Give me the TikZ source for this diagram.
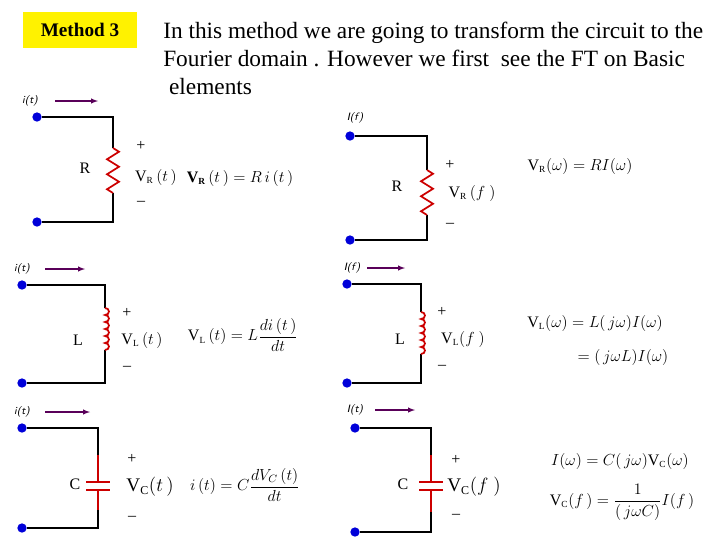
\documentclass[tikz,border=0pt]{standalone}
\usepackage{fontspec}
\setmainfont{Liberation Serif}
\usepackage{amsmath}
\begin{document}
\begin{tikzpicture}[x=0.75pt,y=-0.75pt,
 dot/.style={circle,fill=blue!85!black,inner sep=0,minimum size=7pt},
 w/.style={draw=black,line width=0.8pt},
 comp/.style={draw=red!80!black,line width=1.3pt},
 cur/.style={draw=violet!70!black,line width=0.8pt,-latex},
 lab/.style={font=\sffamily\itshape\footnotesize,inner sep=1pt},
 txt/.style={font=\large,inner sep=1pt},
 eq/.style={font=\large,inner sep=1pt}]
\useasboundingbox (0,0) rectangle (720,540);
\node[fill=yellow,minimum width=86pt,minimum height=27pt,font=\Large\bfseries] (m) at (80,30) {Method 3};
\node[anchor=north west,font=\fontsize{17.5}{21}\selectfont,align=left,inner sep=0] (t) at (163,22) {In this method we are going to transform the circuit to the\\Fourier domain . However we first\ \ see the FT on Basic\\\ elements};
% R time
\node[dot] (a1) at (37,117) {}; \node[dot] (b1) at (37,222) {};
\coordinate (c1) at (113,117); \coordinate (d1) at (113,148); \coordinate (e1) at (113,193); \coordinate (f1) at (113,222);
\draw[w] (a1)--(c1)--(d1); \draw[w] (e1)--(f1)--(b1);
\draw[comp] (d1)--++(6,3.75)--++(-12,7.5)--++(12,7.5)--++(-12,7.5)--++(12,7.5)--++(-12,7.5)--(e1);
\node[lab] (i1) at (30,101) {i(t)}; \coordinate (p1) at (55,101); \coordinate (q1) at (98,101); \draw[cur] (p1)--(q1);
\node[txt] (r1) at (85,168) {R};
\node[txt] (pl1) at (141,146) {+}; \node[txt] (mi1) at (141,203) {--};
\node[eq] (v1) at (156,177) {V\textsubscript{\scriptsize R}\,$(t\,)$};
\node[eq] (e1q) at (240,178) {\textbf{V}\textsubscript{\scriptsize\bfseries R}$\,(t\,)=R\,i\,(t\,)$};
% R freq
\node[dot] (a2) at (350,136) {}; \node[dot] (b2) at (350,240) {};
\coordinate (c2) at (427,136); \coordinate (d2) at (427,170); \coordinate (e2) at (427,215); \coordinate (f2) at (427,240);
\draw[w] (a2)--(c2)--(d2); \draw[w] (e2)--(f2)--(b2);
\draw[comp] (d2)--++(6,3.75)--++(-12,7.5)--++(12,7.5)--++(-12,7.5)--++(12,7.5)--++(-12,7.5)--(e2);
\node[lab] (i2) at (355,118) {I(f)};
\node[txt] (r2) at (397,186) {R};
\node[txt] (pl2) at (450,165) {+}; \node[txt] (mi2) at (450,225) {--};
\node[eq] (v2) at (472,193) {V\textsubscript{\scriptsize R}\,$(f\ )$};
\node[eq] (e2q) at (580,166) {V\textsubscript{\scriptsize R}$(\omega)=RI(\omega)$};
% L time
\node[dot] (a3) at (22,285) {}; \node[dot] (b3) at (22,383) {};
\coordinate (c3) at (105,285); \coordinate (d3) at (105,308); \coordinate (e3) at (105,350); \coordinate (f3) at (105,383);
\draw[w] (a3)--(c3)--(d3); \draw[w] (e3)--(f3)--(b3);
\draw[comp] (d3) arc(-90:90:4 and 3.5) arc(-90:90:4 and 3.5) arc(-90:90:4 and 3.5) arc(-90:90:4 and 3.5) arc(-90:90:4 and 3.5) arc(-90:90:4 and 3.5);
\node[lab] (i3) at (22,269) {i(t)}; \coordinate (p3) at (45,269); \coordinate (q3) at (85,269); \draw[cur] (p3)--(q3);
\node[txt] (r3) at (78,340) {L};
\node[txt] (pl3) at (127,313) {+}; \node[txt] (mi3) at (127,368) {--};
\node[eq] (v3) at (142,340) {V\textsubscript{\scriptsize L}\,$(t\,)$};
\node[eq] (e3q) at (243,335) {V\textsubscript{\scriptsize L}$\,(t)=L\dfrac{di\,(t\,)}{dt}$};
% L freq
\node[dot] (a4) at (347,284) {}; \node[dot] (b4) at (347,383) {};
\coordinate (c4) at (421,284); \coordinate (d4) at (421,312); \coordinate (e4) at (421,354); \coordinate (f4) at (421,383);
\draw[w] (a4)--(c4)--(d4); \draw[w] (e4)--(f4)--(b4);
\draw[comp] (d4) arc(-90:90:4 and 3.5) arc(-90:90:4 and 3.5) arc(-90:90:4 and 3.5) arc(-90:90:4 and 3.5) arc(-90:90:4 and 3.5) arc(-90:90:4 and 3.5);
\node[lab] (i4) at (352,268) {I(f)}; \coordinate (p4) at (367,268); \coordinate (q4) at (405,268); \draw[cur] (p4)--(q4);
\node[txt] (r4) at (400,339) {L};
\node[txt] (pl4) at (442,312) {+}; \node[txt] (mi4) at (442,367) {--};
\node[eq] (v4) at (463,339) {V\textsubscript{\scriptsize L}$(f\ )$};
\node[eq] (e4q) at (595,323) {V\textsubscript{\scriptsize L}$(\omega)=L(\,j\omega)I(\omega)$};
\node[eq] (e4r) at (623,357) {$=(\,j\omega L)I(\omega)$};
% C time
\node[dot] (a5) at (22,428) {}; \node[dot] (b5) at (22,528) {};
\coordinate (c5) at (98,428); \coordinate (d5) at (98,482); \coordinate (e5) at (98,490); \coordinate (f5) at (98,528);
\draw[w] (a5)--(c5)--(98,455); \draw[comp] (98,455)--(d5); \draw[comp] (e5)--(98,510); \draw[w] (98,510)--(f5)--(b5);
\draw[comp] (86,482)--(110,482) (86,490)--(110,490);
\node[lab] (i5) at (22,412) {i(t)}; \coordinate (p5) at (45,412); \coordinate (q5) at (90,412); \draw[cur] (p5)--(q5);
\node[txt] (r5) at (75,484) {C};
\node[txt] (pl5) at (132,459) {+}; \node[txt] (mi5) at (132,518) {--};
\node[eq,font=\Large] (v5) at (150,487) {V\textsubscript{\small C}$(t\,)$};
\node[eq] (e5q) at (245,485) {$i\,(t)=C\dfrac{dV_C\,(t)}{dt}$};
% C freq
\node[dot] (a6) at (355,428) {}; \node[dot] (b6) at (355,532) {};
\coordinate (c6) at (431,428); \coordinate (d6) at (431,482); \coordinate (e6) at (431,490); \coordinate (f6) at (431,532);
\draw[w] (a6)--(c6)--(431,455); \draw[comp] (431,455)--(d6); \draw[comp] (e6)--(431,512); \draw[w] (431,512)--(f6)--(b6);
\draw[comp] (419,482)--(443,482) (419,490)--(443,490);
\node[lab] (i6) at (355,410) {I(t)}; \coordinate (p6) at (375,410); \coordinate (q6) at (415,410); \draw[cur] (p6)--(q6);
\node[txt] (r6) at (403,484) {C};
\node[txt] (pl6) at (456,460) {+}; \node[txt] (mi6) at (456,516) {--};
\node[eq,font=\Large] (v6) at (474,487) {V\textsubscript{\small C}$(f\ )$};
\node[eq] (e6q) at (620,461) {$I(\omega)=C(\,j\omega)$V\textsubscript{\scriptsize C}$(\omega)$};
\node[eq] (e6r) at (622,502) {V\textsubscript{\scriptsize C}$(f\,)=\dfrac{1}{(\,j\omega C)}I(f\,)$};
\end{tikzpicture}
\end{document}
